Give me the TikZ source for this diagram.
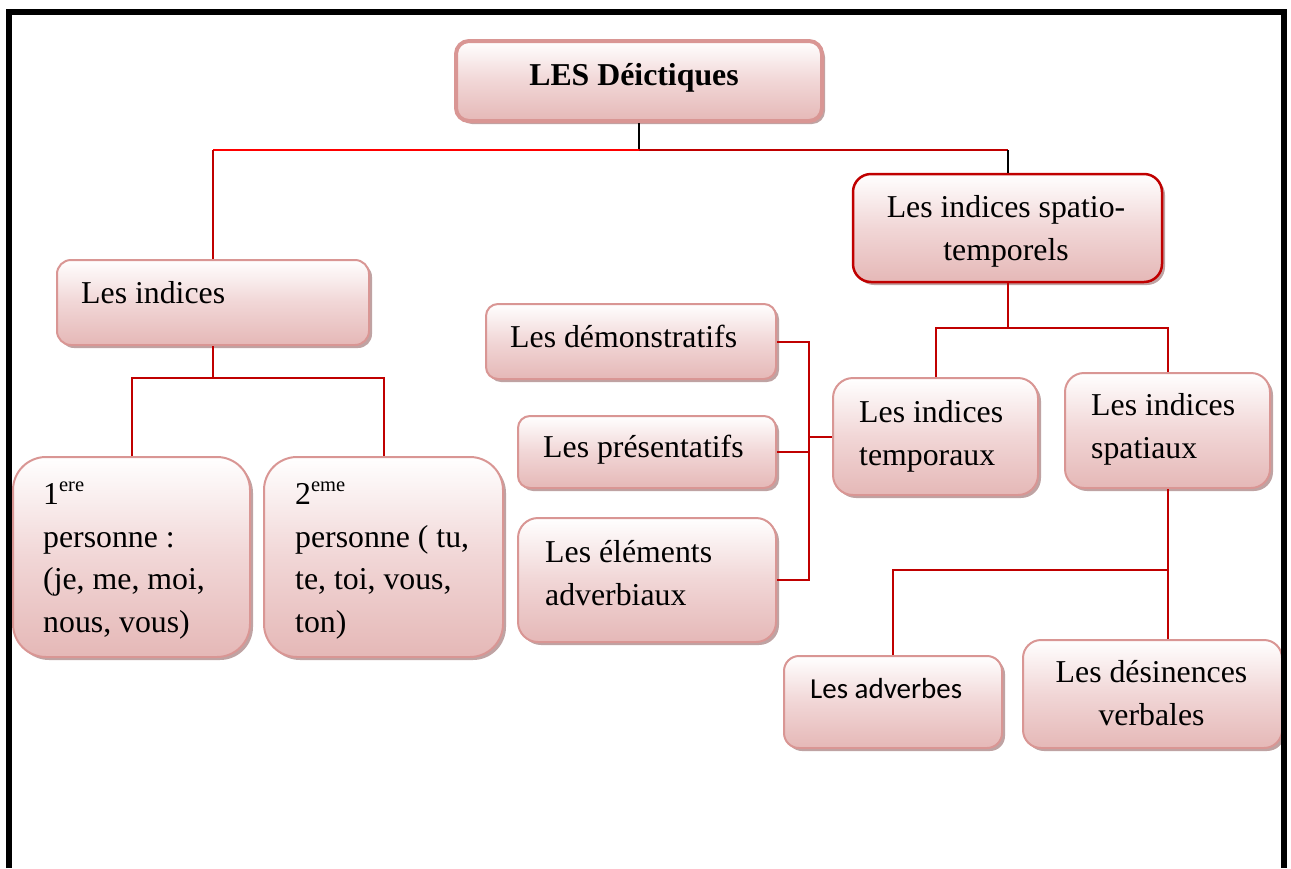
\documentclass[tikz,border=0pt]{standalone}
\usepackage{fontspec}
\setmainfont{Liberation Serif}
\newfontfamily\calibfont{Carlito}
\usetikzlibrary{shadows}
\definecolor{bord}{RGB}{217,150,148}
\definecolor{pinkB}{RGB}{229,184,183}
\definecolor{pinkM}{RGB}{241,214,214}
\definecolor{shad}{RGB}{175,140,140}
\definecolor{dred}{RGB}{192,0,0}
\definecolor{bred}{RGB}{255,0,0}
\begin{document}
\begin{tikzpicture}[x=1pt,y=-1pt,
  box/.style={draw=bord, line width=2pt, top color=white, bottom color=pinkB, middle color=pinkM, inner sep=0pt,
    drop shadow={shadow xshift=3pt, shadow yshift=-3pt, fill=shad, opacity=0.8}},
  txt/.style={inner sep=0pt, font=\fontsize{31.8}{42.5}\selectfont},
  conn/.style={draw=dred, line width=2pt},
]
\useasboundingbox (0,0) rectangle (1291,868);

% boxes
\node[box, line width=4pt, rounded corners=13pt, minimum width=366pt, minimum height=80pt] (b_title) at (639,81) {};
\node[box, rounded corners=14pt, minimum width=312pt, minimum height=85pt] (b_ind) at (213,302.5) {};
\node[box, rounded corners=33pt, minimum width=237pt, minimum height=200pt] (b_p1) at (131.5,557) {};
\node[box, rounded corners=33pt, minimum width=239pt, minimum height=200pt] (b_p2) at (383.5,557) {};
\node[box, draw=dred, line width=2.5pt, rounded corners=18pt, minimum width=309pt, minimum height=108pt] (b_st) at (1007.5,228) {};
\node[box, rounded corners=12pt, minimum width=290pt, minimum height=75pt] (b_dem) at (631,341.5) {};
\node[box, rounded corners=12pt, minimum width=258pt, minimum height=72pt] (b_pre) at (647,452) {};
\node[box, rounded corners=20pt, minimum width=258pt, minimum height=124pt] (b_ele) at (647,580) {};
\node[box, rounded corners=20pt, minimum width=205pt, minimum height=117pt] (b_tem) at (935.5,436.5) {};
\node[box, rounded corners=19pt, minimum width=205pt, minimum height=115pt] (b_spa) at (1167.5,430.5) {};
\node[box, rounded corners=15pt, minimum width=218pt, minimum height=92pt] (b_adv) at (893,702) {};
\node[box, rounded corners=18pt, minimum width=259pt, minimum height=108pt] (b_des) at (1152.5,694) {};

% texts
\node[txt, anchor=base, font=\fontsize{31.8}{42.5}\selectfont\bfseries] (t_title) at (634,85) {LES Déictiques};
\node[txt, anchor=base west] (t_ind) at (81,303) {Les indices};
\node[txt, anchor=base west, align=left] (t_p1) at (43,632) {1\raisebox{13pt}{\fontsize{20.5}{20}\selectfont ere}\\personne :\\(je, me, moi,\\nous, vous)};
\node[txt, anchor=base west, align=left] (t_p2) at (295,632) {2\raisebox{13pt}{\fontsize{20.5}{20}\selectfont eme}\\personne ( tu,\\te, toi, vous,\\ton)};
\node[txt, anchor=base, align=center] (t_st) at (1006,260) {Les indices spatio-\\temporels};
\node[txt, anchor=base west] (t_dem) at (510,347) {Les démonstratifs};
\node[txt, anchor=base west] (t_pre) at (543,457) {Les présentatifs};
\node[txt, anchor=base west, align=left] (t_ele) at (545,605) {Les éléments\\adverbiaux};
\node[txt, anchor=base west, align=left] (t_tem) at (859,465) {Les indices\\temporaux};
\node[txt, anchor=base west, align=left] (t_spa) at (1091,458) {Les indices\\spatiaux};
\node[txt, anchor=base west, font=\fontsize{29}{35}\calibfont] (t_adv) at (810,698) {Les adverbes};
\node[txt, anchor=base, align=center] (t_des) at (1151.5,725) {Les désinences\\verbales};

% helper coordinates
\coordinate (h0) at (0,150);
\coordinate (h1) at (0,378);
\coordinate (h2) at (0,328);
\coordinate (h3) at (0,570);
\coordinate (vx) at (809,0);

% connectors
\draw[line width=2pt, black] (b_title.south) -- (b_title.south |- h0);
\draw[line width=2pt, draw=bred] (b_title.south |- h0) -- (b_ind.north |- h0);
\draw[conn] (b_ind.north |- h0) -- (b_ind.north);
\draw[conn] (b_title.south |- h0) -- (b_st.north |- h0);
\draw[line width=2pt, black] (b_st.north |- h0) -- (b_st.north);

\draw[conn] (b_ind.south) -- (b_ind.south |- h1);
\draw[conn] (b_p1.north) -- (b_p1.north |- h1) -- (b_p2.north |- h1) -- (b_p2.north);

\draw[conn] (b_st.south) -- (b_st.south |- h2);
\draw[conn] (b_tem.north) -- (b_tem.north |- h2) -- (b_spa.north |- h2) -- (b_spa.north);

\draw[conn] (b_dem.east) -- (b_dem.east -| vx) -- (b_ele.east -| vx) -- (b_ele.east);
\draw[conn] (b_pre.east) -- (b_pre.east -| vx);
\draw[conn] (b_tem.west) -- (b_tem.west -| vx);

\draw[conn] (b_spa.south) -- (b_spa.south |- b_des.north);
\draw[conn] (b_spa.south |- h3) -| (b_adv.north);

% frame
\draw[line width=6pt, black] (9,868) -- (9,12) -- (1284,12) -- (1284,868);
\end{tikzpicture}
\end{document}
